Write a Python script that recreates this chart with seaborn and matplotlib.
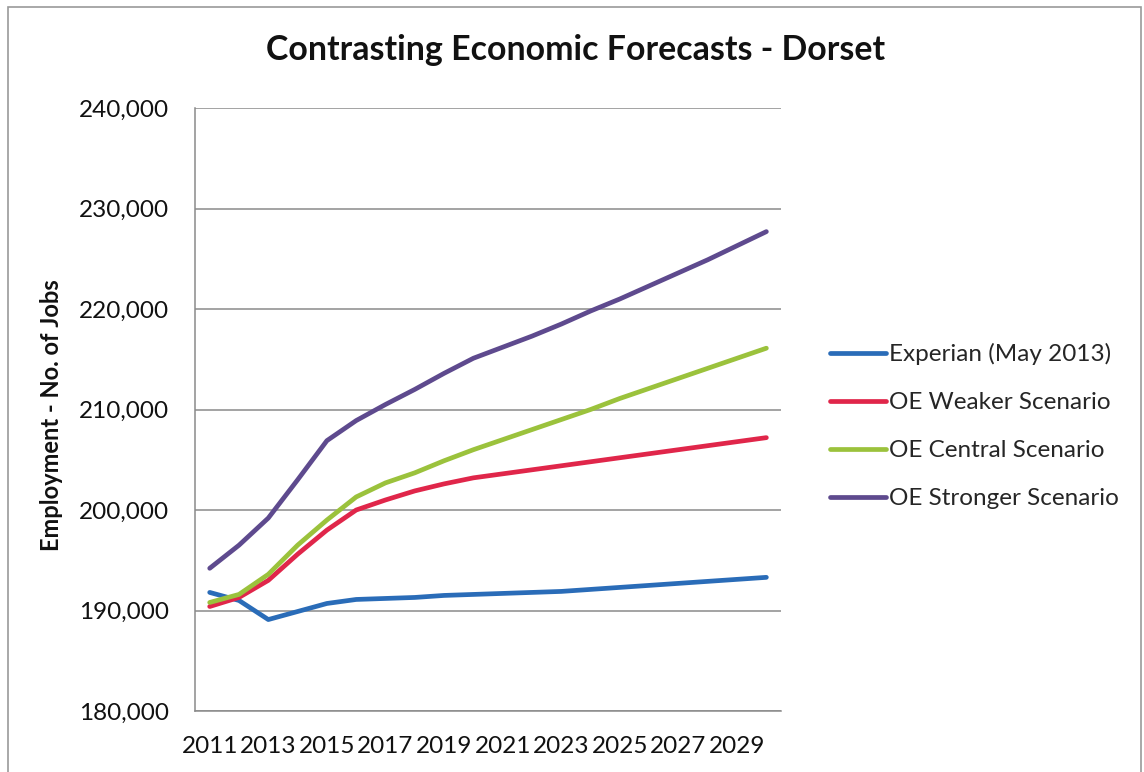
import matplotlib
matplotlib.use("Agg")
import matplotlib.pyplot as plt
from matplotlib.patches import Rectangle
import seaborn as sns
import pandas as pd

years = list(range(2011, 2031))

experian = [191800, 191000, 189100, 189900, 190700, 191100, 191200, 191300, 191500, 191600,
            191700, 191800, 191900, 192100, 192300, 192500, 192700, 192900, 193100, 193300]
oe_weaker = [190400, 191300, 193000, 195600, 198000, 200000, 201000, 201900, 202600, 203200,
             203600, 204000, 204400, 204800, 205200, 205600, 206000, 206400, 206800, 207200]
oe_central = [190800, 191600, 193600, 196500, 199000, 201300, 202700, 203700, 204900, 206000,
              207000, 208000, 209000, 210000, 211100, 212100, 213100, 214100, 215100, 216100]
oe_stronger = [194200, 196500, 199200, 203000, 206900, 208900, 210500, 212000, 213600, 215100,
               216200, 217300, 218500, 219800, 221000, 222300, 223600, 224900, 226300, 227700]

series_names = ["Experian (May 2013)", "OE Weaker Scenario",
                "OE Central Scenario", "OE Stronger Scenario"]
series_values = [experian, oe_weaker, oe_central, oe_stronger]
series_colors = ["#2A6CB8", "#E0264A", "#9BC23C", "#5E4A8E"]

y_ticks = [180000, 190000, 200000, 210000, 220000, 230000, 240000]
x_ticks = list(range(2011, 2030, 2))

title = "Contrasting Economic Forecasts - Dorset"
y_label = "Employment - No. of Jobs"

frames = [pd.DataFrame({"Year": years, "Jobs": vals, "Series": name})
          for name, vals in zip(series_names, series_values)]
df = pd.concat(frames, ignore_index=True)

sns.set_theme(style="white")
plt.rcParams["font.family"] = ["Lato", "DejaVu Sans"]

fig = plt.figure(figsize=(11.44, 7.72), dpi=100)
ax = fig.add_axes([0.1705, 0.0790, 0.5122, 0.7811])

sns.lineplot(data=df, x="Year", y="Jobs", hue="Series", hue_order=series_names,
             palette=series_colors, linewidth=3.4, ax=ax, legend=True)

ax.set_xlim(2010.5, 2030.5)
ax.set_ylim(180000, 240000)
ax.set_yticks(y_ticks)
ax.set_yticklabels([f"{v:,}" for v in y_ticks])
ax.set_xticks(x_ticks)
ax.set_xticklabels([str(y) for y in x_ticks])
ax.tick_params(axis="both", labelsize=17.5, colors="#111111", length=0)
ax.tick_params(axis="x", pad=18)
ax.tick_params(axis="y", pad=19)

ax.grid(axis="y", color="#8a8a8a", linewidth=1.1)
ax.set_axisbelow(True)
for side in ["top", "right"]:
    ax.spines[side].set_visible(False)
for side in ["left", "bottom"]:
    ax.spines[side].set_color("#8a8a8a")
    ax.spines[side].set_linewidth(1.1)

ax.set_xlabel("")
ax.set_ylabel("")
fig.text(52 / 1144, 1 - 415 / 772, y_label, rotation=90, ha="center", va="center",
         fontsize=17, fontweight="bold", color="#111111")

fig.text(0.5035, 0.935, title, ha="center", va="center",
         fontsize=24.4, fontweight="bold", color="#111111")

handles, labels = ax.get_legend_handles_labels()
ax.legend(handles, labels, loc="center left", bbox_to_anchor=(0.715, 0.448),
          bbox_transform=fig.transFigure, frameon=False, fontsize=17.5,
          handlelength=2.3, handletextpad=0.12, labelspacing=1.11, borderpad=0)

fig.patches.append(Rectangle((8 / 1144, -0.01), 1133 / 1144, 1 - 7 / 772 + 0.01,
                             transform=fig.transFigure, fill=False,
                             edgecolor="#9a9a9a", linewidth=1.2))

fig.savefig("out.png", dpi=100, facecolor="white")
